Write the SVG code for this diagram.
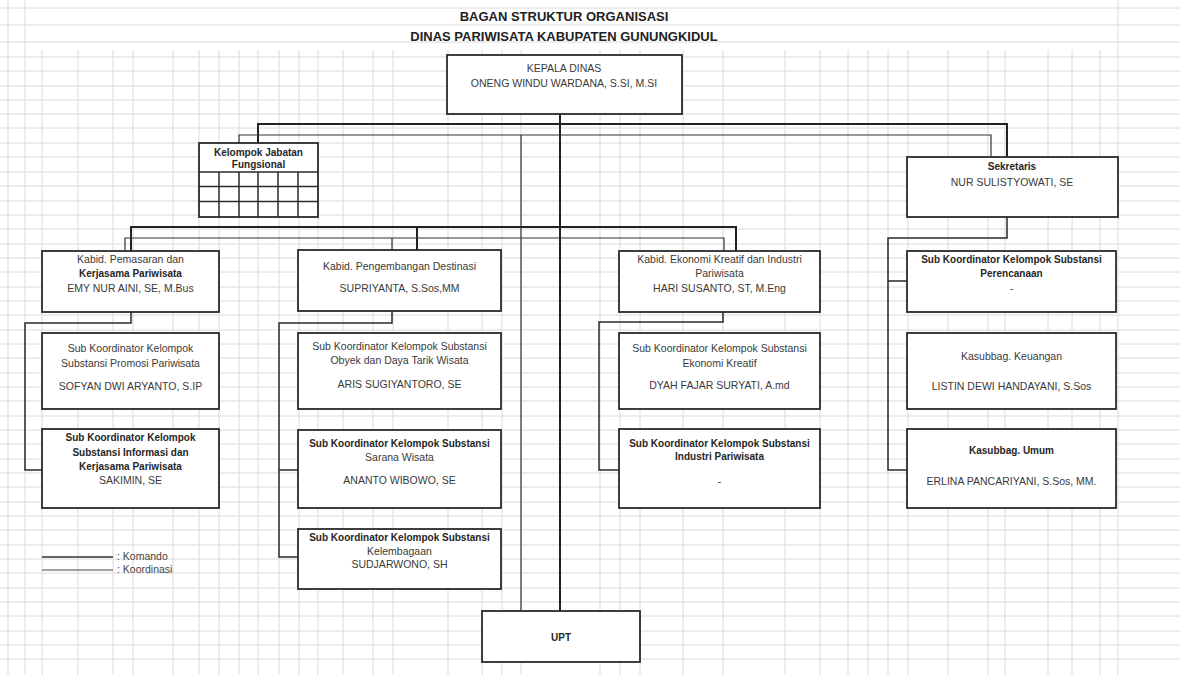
<svg xmlns="http://www.w3.org/2000/svg" width="1180" height="675" viewBox="0 0 1180 675">
<style>
.grid line{stroke:#dadada;stroke-width:1}
.box{fill:#fff;stroke:#2a2a2a;stroke-width:1.8}
.t{font-family:"Liberation Sans",Arial,sans-serif;font-size:10.5px;fill:#3a3a3a;text-anchor:middle}
.b{font-weight:bold;fill:#262626;font-size:10px}
.title{font-family:"Liberation Sans",Arial,sans-serif;font-size:13px;font-weight:bold;fill:#222;text-anchor:middle}
.k{fill:none;stroke:#222;stroke-width:2}
.c{fill:none;stroke:#333;stroke-width:1.2}
.s{fill:none;stroke:#2a2a2a;stroke-width:1.5}
.leg{font-family:"Liberation Sans",Arial,sans-serif;font-size:10.5px;fill:#444}
</style>
<rect width="1180" height="675" fill="#fff"/>
<g class="grid">
<line x1="0" y1="8" x2="1180" y2="8"/><line x1="0" y1="25" x2="1180" y2="25"/><line x1="0" y1="42" x2="1180" y2="42"/>
<line x1="0" y1="57" x2="1180" y2="57"/><line x1="0" y1="71" x2="1180" y2="71"/><line x1="0" y1="86" x2="1180" y2="86"/>
<line x1="0" y1="100" x2="1180" y2="100"/><line x1="0" y1="114" x2="1180" y2="114"/><line x1="0" y1="128" x2="1180" y2="128"/>
<line x1="0" y1="143" x2="1180" y2="143"/><line x1="0" y1="157" x2="1180" y2="157"/><line x1="0" y1="172" x2="1180" y2="172"/>
<line x1="0" y1="186" x2="1180" y2="186"/><line x1="0" y1="201" x2="1180" y2="201"/><line x1="0" y1="215" x2="1180" y2="215"/>
<line x1="0" y1="229" x2="1180" y2="229"/><line x1="0" y1="244" x2="1180" y2="244"/><line x1="0" y1="258" x2="1180" y2="258"/>
<line x1="0" y1="272" x2="1180" y2="272"/><line x1="0" y1="287" x2="1180" y2="287"/><line x1="0" y1="301" x2="1180" y2="301"/>
<line x1="0" y1="315" x2="1180" y2="315"/><line x1="0" y1="330" x2="1180" y2="330"/><line x1="0" y1="344" x2="1180" y2="344"/>
<line x1="0" y1="358" x2="1180" y2="358"/><line x1="0" y1="373" x2="1180" y2="373"/><line x1="0" y1="387" x2="1180" y2="387"/>
<line x1="0" y1="401" x2="1180" y2="401"/><line x1="0" y1="416" x2="1180" y2="416"/><line x1="0" y1="430" x2="1180" y2="430"/>
<line x1="0" y1="444" x2="1180" y2="444"/><line x1="0" y1="459" x2="1180" y2="459"/><line x1="0" y1="473" x2="1180" y2="473"/>
<line x1="0" y1="487" x2="1180" y2="487"/><line x1="0" y1="502" x2="1180" y2="502"/><line x1="0" y1="516" x2="1180" y2="516"/>
<line x1="0" y1="530" x2="1180" y2="530"/><line x1="0" y1="545" x2="1180" y2="545"/><line x1="0" y1="559" x2="1180" y2="559"/>
<line x1="0" y1="573" x2="1180" y2="573"/><line x1="0" y1="588" x2="1180" y2="588"/><line x1="0" y1="602" x2="1180" y2="602"/>
<line x1="0" y1="616" x2="1180" y2="616"/><line x1="0" y1="631" x2="1180" y2="631"/><line x1="0" y1="645" x2="1180" y2="645"/>
<line x1="0" y1="659" x2="1180" y2="659"/>
<line x1="8" y1="0" x2="8" y2="675"/><line x1="25" y1="0" x2="25" y2="675"/><line x1="1118" y1="0" x2="1118" y2="675"/>
<line x1="42" y1="50" x2="42" y2="675"/><line x1="78" y1="50" x2="78" y2="675"/><line x1="113" y1="50" x2="113" y2="675"/>
<line x1="133" y1="50" x2="133" y2="675"/><line x1="173" y1="50" x2="173" y2="675"/><line x1="199" y1="50" x2="199" y2="675"/>
<line x1="219" y1="50" x2="219" y2="675"/><line x1="239" y1="50" x2="239" y2="675"/><line x1="258" y1="50" x2="258" y2="675"/>
<line x1="279" y1="50" x2="279" y2="675"/><line x1="299" y1="50" x2="299" y2="675"/><line x1="318" y1="50" x2="318" y2="675"/>
<line x1="343" y1="50" x2="343" y2="675"/><line x1="373" y1="50" x2="373" y2="675"/><line x1="393" y1="50" x2="393" y2="675"/>
<line x1="448" y1="50" x2="448" y2="675"/><line x1="482" y1="50" x2="482" y2="675"/><line x1="502" y1="50" x2="502" y2="675"/>
<line x1="521" y1="50" x2="521" y2="675"/><line x1="600" y1="50" x2="600" y2="675"/><line x1="620" y1="50" x2="620" y2="675"/>
<line x1="640" y1="50" x2="640" y2="675"/><line x1="683" y1="50" x2="683" y2="675"/><line x1="723" y1="50" x2="723" y2="675"/>
<line x1="785" y1="50" x2="785" y2="675"/><line x1="820" y1="50" x2="820" y2="675"/><line x1="848" y1="50" x2="848" y2="675"/>
<line x1="868" y1="50" x2="868" y2="675"/><line x1="888" y1="50" x2="888" y2="675"/><line x1="908" y1="50" x2="908" y2="675"/>
<line x1="948" y1="50" x2="948" y2="675"/><line x1="988" y1="50" x2="988" y2="675"/><line x1="1005" y1="50" x2="1005" y2="675"/>
<line x1="1048" y1="50" x2="1048" y2="675"/><line x1="1072" y1="50" x2="1072" y2="675"/><line x1="1100" y1="50" x2="1100" y2="675"/>
</g>
<g id="title">
<text class="title" x="564" y="21">BAGAN STRUKTUR ORGANISASI</text>
<text class="title" x="564" y="41">DINAS PARIWISATA KABUPATEN GUNUNGKIDUL</text>
</g>
<g id="connectors">
<path class="k" d="M560,114 V611"/>
<path class="k" d="M258,143 V124 H1007 V157"/>
<path class="c" d="M239,143 V135 H991 V157"/>
<path class="c" d="M521,135 V611"/>
<path class="k" d="M131,251 V227 H736 V251 M417,227 V250"/>
<path class="c" d="M125,251 V238 H724 V251 M392,238 V250"/>
<path class="s" d="M1007,217 V238 H888 V470 H907 M888,281 H907"/>
<path class="s" d="M131,312 V323 H25 V470 H42"/>
<path class="s" d="M392,311 V323 H279 V557 H298 M279,470 H298"/>
<path class="s" d="M723,312 V322 H599 V470 H619"/>
</g>
<g id="kepala">
<rect class="box" x="447" y="55" width="235" height="59"/>
<text class="t" x="564" y="72">KEPALA DINAS</text>
<text class="t" x="564" y="87">ONENG WINDU WARDANA, S.SI, M.SI</text>
</g>
<g id="jabatan-fungsional">
<rect class="box" x="199" y="143" width="119" height="74"/>
<path class="s" d="M199,172 H318 M199,186.5 H318 M199,201.5 H318 M219,172 V217 M239,172 V217 M258,172 V217 M278,172 V217 M298,172 V217"/>
<text class="t b" x="258.5" y="156">Kelompok Jabatan</text>
<text class="t b" x="258.5" y="168">Fungsional</text>
</g>
<g id="sekretaris">
<rect class="box" x="907" y="157" width="211" height="60"/>
<text class="t b" x="1012" y="170">Sekretaris</text>
<text class="t" x="1012" y="186">NUR SULISTYOWATI, SE</text>
</g>
<g id="kabid-pemasaran">
<rect class="box" x="42" y="251" width="177" height="61"/>
<text class="t" x="130.5" y="263">Kabid. Pemasaran dan</text>
<text class="t b" x="130.5" y="277">Kerjasama Pariwisata</text>
<text class="t" x="130.5" y="292">EMY NUR AINI, SE, M.Bus</text>
</g>
<g id="kabid-destinasi">
<rect class="box" x="298" y="250" width="203" height="61"/>
<text class="t" x="399.5" y="270">Kabid. Pengembangan Destinasi</text>
<text class="t" x="399.5" y="292">SUPRIYANTA, S.Sos,MM</text>
</g>
<g id="kabid-ekonomi">
<rect class="box" x="619" y="251" width="201" height="61"/>
<text class="t" x="719.5" y="263">Kabid. Ekonomi Kreatif dan Industri</text>
<text class="t" x="719.5" y="277">Pariwisata</text>
<text class="t" x="719.5" y="292">HARI SUSANTO, ST, M.Eng</text>
</g>
<g id="sub-perencanaan">
<rect class="box" x="907" y="251" width="209" height="61"/>
<text class="t b" x="1011.5" y="263">Sub Koordinator Kelompok Substansi</text>
<text class="t b" x="1011.5" y="277">Perencanaan</text>
<text class="t" x="1011.5" y="292">-</text>
</g>
<g id="sub-promosi">
<rect class="box" x="42" y="333" width="177" height="76"/>
<text class="t" x="130.5" y="352">Sub Koordinator Kelompok</text>
<text class="t" x="130.5" y="367">Substansi Promosi Pariwisata</text>
<text class="t" x="130.5" y="390">SOFYAN DWI ARYANTO, S.IP</text>
</g>
<g id="sub-obyek">
<rect class="box" x="298" y="333" width="203" height="76"/>
<text class="t" x="399.5" y="350">Sub Koordinator Kelompok Substansi</text>
<text class="t" x="399.5" y="364">Obyek dan Daya Tarik Wisata</text>
<text class="t" x="399.5" y="388">ARIS SUGIYANTORO, SE</text>
</g>
<g id="sub-ekraf">
<rect class="box" x="619" y="333" width="201" height="76"/>
<text class="t" x="719.5" y="352">Sub Koordinator Kelompok Substansi</text>
<text class="t" x="719.5" y="367">Ekonomi Kreatif</text>
<text class="t" x="719.5" y="389">DYAH FAJAR SURYATI, A.md</text>
</g>
<g id="kasubbag-keuangan">
<rect class="box" x="907" y="333" width="209" height="76"/>
<text class="t" x="1011.5" y="360">Kasubbag. Keuangan</text>
<text class="t" x="1011.5" y="390">LISTIN DEWI HANDAYANI, S.Sos</text>
</g>
<g id="sub-informasi">
<rect class="box" x="42" y="429" width="177" height="79"/>
<text class="t b" x="130.5" y="441">Sub Koordinator Kelompok</text>
<text class="t b" x="130.5" y="456">Substansi Informasi dan</text>
<text class="t b" x="130.5" y="470">Kerjasama Pariwisata</text>
<text class="t" x="130.5" y="484">SAKIMIN, SE</text>
</g>
<g id="sub-sarana">
<rect class="box" x="298" y="430" width="203" height="78"/>
<text class="t b" x="399.5" y="447">Sub Koordinator Kelompok Substansi</text>
<text class="t" x="399.5" y="461">Sarana Wisata</text>
<text class="t" x="399.5" y="484">ANANTO WIBOWO, SE</text>
</g>
<g id="sub-industri">
<rect class="box" x="619" y="429" width="201" height="79"/>
<text class="t b" x="719.5" y="447">Sub Koordinator Kelompok Substansi</text>
<text class="t b" x="719.5" y="460">Industri Pariwisata</text>
<text class="t" x="719.5" y="485">-</text>
</g>
<g id="kasubbag-umum">
<rect class="box" x="907" y="429" width="209" height="79"/>
<text class="t b" x="1011.5" y="454">Kasubbag. Umum</text>
<text class="t" x="1011.5" y="485">ERLINA PANCARIYANI, S.Sos, MM.</text>
</g>
<g id="sub-kelembagaan">
<rect class="box" x="298" y="529" width="203" height="60"/>
<text class="t b" x="399.5" y="541">Sub Koordinator Kelompok Substansi</text>
<text class="t" x="399.5" y="555">Kelembagaan</text>
<text class="t" x="399.5" y="568">SUDJARWONO, SH</text>
</g>
<g id="upt">
<rect class="box" x="482" y="611" width="158" height="51"/>
<text class="t b" x="561" y="641">UPT</text>
</g>
<g id="legend">
<line x1="42" y1="557" x2="113" y2="557" stroke="#333" stroke-width="1.3"/>
<line x1="42" y1="570" x2="113" y2="570" stroke="#444" stroke-width="1"/>
<text class="leg" x="117" y="560">:  Komando</text>
<text class="leg" x="117" y="573">:  Koordinasi</text>
</g>
</svg>
